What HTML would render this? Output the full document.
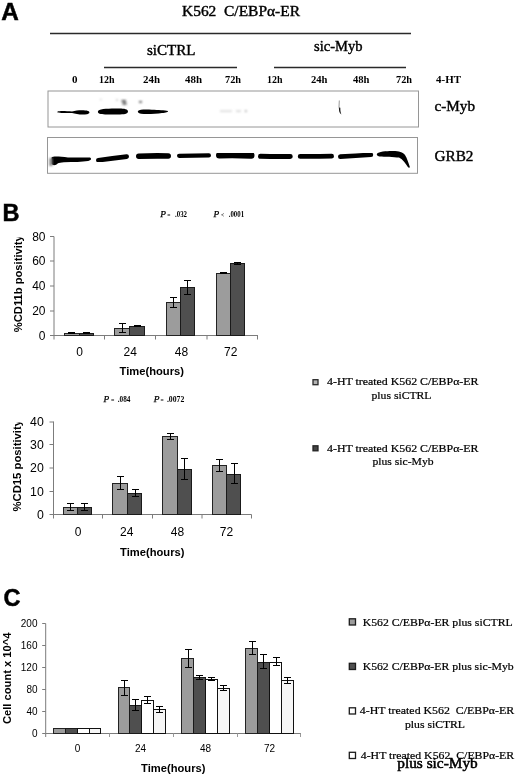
<!DOCTYPE html>
<html><head><meta charset="utf-8"><title>K562 C/EBPα-ER figure</title>
<style>
html,body{margin:0;padding:0;background:#fff;}
body{width:520px;height:777px;overflow:hidden;}
svg{display:block;}
.se{font-family:"Liberation Serif","Times New Roman",serif;fill:#000;}
.sa{font-family:"Liberation Sans",Arial,sans-serif;fill:#000;}
.b{font-weight:bold;}
.hv{stroke:#000;stroke-width:0.4;}
.hv2{stroke:#000;stroke-width:0.5;}
.hv3{stroke:#000;stroke-width:0.25;}
.i{font-style:italic;}
.ax{stroke:#7c7c7c;stroke-width:1;fill:none;}
.eb{stroke:#000;stroke-width:1;fill:none;}
.lg{fill:#9c9c9c;stroke:#222;stroke-width:1;}
.dk{fill:#4f4f4f;stroke:#1a1a1a;stroke-width:1;}
.wh{fill:#fff;stroke:#111;stroke-width:1;}
.w2{fill:#f6f6f6;stroke:#111;stroke-width:1;}
</style></head><body>
<svg width="520" height="777" viewBox="0 0 520 777">
<defs>
<filter id="bl" x="-5%" y="-30%" width="110%" height="160%"><feGaussianBlur stdDeviation="0.55"/></filter>
<filter id="bl2" x="-20%" y="-50%" width="140%" height="200%"><feGaussianBlur stdDeviation="0.9"/></filter>
</defs>
<rect width="520" height="777" fill="#fff"/>

<!-- ===== Panel A ===== -->
<g id="panelA">
<text class="sa b hv2" x="1.2" y="20.3" font-size="24.3">A</text>
<text class="se hv" x="182" y="15.6" font-size="14.7" textLength="118" lengthAdjust="spacingAndGlyphs" xml:space="preserve">K562  C/EBPα-ER</text>
<line x1="50" y1="33.5" x2="411" y2="33.5" stroke="#2a2a2a" stroke-width="1.5"/>
<text class="se hv" x="147" y="54.5" font-size="14.5" textLength="48.5" lengthAdjust="spacingAndGlyphs">siCTRL</text>
<text class="se hv" x="314" y="51" font-size="14.5" textLength="48.5" lengthAdjust="spacingAndGlyphs">sic-Myb</text>
<line x1="104" y1="67.5" x2="237" y2="67.5" stroke="#2a2a2a" stroke-width="1.5"/>
<line x1="274" y1="67.5" x2="406" y2="67.5" stroke="#2a2a2a" stroke-width="1.5"/>
<g class="se b" font-size="11">
<text x="72" y="82.5">0</text>
<text x="99" y="82.5" textLength="15.5" lengthAdjust="spacingAndGlyphs">12h</text>
<text x="143" y="82.5" textLength="17" lengthAdjust="spacingAndGlyphs">24h</text>
<text x="185" y="82.5" textLength="17" lengthAdjust="spacingAndGlyphs">48h</text>
<text x="225" y="82.5" textLength="16" lengthAdjust="spacingAndGlyphs">72h</text>
<text x="267" y="82.5" textLength="15.5" lengthAdjust="spacingAndGlyphs">12h</text>
<text x="311" y="82.5" textLength="16.5" lengthAdjust="spacingAndGlyphs">24h</text>
<text x="353" y="82.5" textLength="16.5" lengthAdjust="spacingAndGlyphs">48h</text>
<text x="396" y="82.5" textLength="16" lengthAdjust="spacingAndGlyphs">72h</text>
<text x="436" y="82.5" textLength="25" lengthAdjust="spacingAndGlyphs">4-HT</text>
</g>
<rect x="48" y="91" width="370.5" height="36" fill="#fff" stroke="#969696" stroke-width="1"/>
<rect x="47.5" y="137.5" width="370" height="35.8" fill="#fff" stroke="#969696" stroke-width="1"/>
<text class="se hv" x="434.5" y="111" font-size="15" textLength="40.5" lengthAdjust="spacingAndGlyphs">c-Myb</text>
<text class="se hv" x="434.5" y="160.5" font-size="15" textLength="39" lengthAdjust="spacingAndGlyphs">GRB2</text>
<!-- c-Myb bands -->
<g filter="url(#bl)" fill="#000">
<path d="M57.5 111.6 C60 110.6 66 111 72 111.6 C77 110.2 84 110 88 111 C90.3 111.8 89.8 113.6 87 114.2 C82 115 76 114.2 72 113 C66 113 60 113 57.5 112.4Z"/>
<path d="M98.5 110.6 C100 108.6 110 108.6 118 108.5 C124 108.4 128 109 128 111.5 C128 114 124 114.4 118 114.4 C110 114.6 101 114.6 99 113.4 C97.6 112.6 97.6 111.4 98.5 110.6Z"/>
<path d="M138 111 C139.5 109.4 146 109.4 152 109.8 C158 110 165 110.2 168 111 C168.4 112 166 112.8 162 113 C156 114 146 114.4 141 113.8 C138.2 113.4 137.4 112 138 111Z"/>
</g>
<g filter="url(#bl2)" fill="#555">
<rect x="121.5" y="100" width="4.5" height="1.8"/><rect x="122.5" y="102.5" width="4" height="2.2"/>
<rect x="139" y="101" width="3" height="1.8" fill="#666"/>
<rect x="116" y="99.5" width="2" height="1" fill="#aaa"/><rect x="100" y="99" width="1.5" height="1" fill="#bbb"/>
<rect x="220" y="110.6" width="12" height="1" fill="#c4c4c4"/><rect x="236" y="110.6" width="5" height="1" fill="#bbb"/><rect x="245" y="110.4" width="1.6" height="1.4" fill="#888"/>
</g>
<g filter="url(#bl)">
<path d="M339.3 100.5 L339 107 L339.6 110" stroke="#999" stroke-width="1" fill="none"/>
<path d="M339.2 107.5 C338.6 110.5 339.4 113.2 341.4 114.6 C340.6 112.6 340.2 110 340.3 107.8Z" fill="#111"/>
</g>
<!-- GRB2 bands -->
<g filter="url(#bl)" fill="none" stroke="#000" stroke-linecap="round">
<path d="M98.3 160.2Q112.5 158.1 126.7 156.6" stroke-width="4.6"/>
<path d="M138.8 156.2Q153.5 155.7 168.2 156" stroke-width="5.6"/>
<path d="M179.1 155.8Q194.0 155.4 208.9 155.4" stroke-width="4.2"/>
<path d="M219.3 155.2Q235.2 154.8 251.2 155.4" stroke-width="6.6"/>
<path d="M260.5 156.2Q275.4 156.6 290.2 156.4" stroke-width="5.0"/>
<path d="M300.2 156.4Q315.9 156.5 331.6 156.2" stroke-width="4.8"/>
<path d="M340.3 156.6Q355.6 155.9 370.9 154.8" stroke-width="4.6"/>
</g>
<g filter="url(#bl)" fill="#000">
<path d="M51.5 157.5 C53 155.8 60 156.6 68 157.4 C76 158 86 157 90 157.6 C92 158.6 91 160.6 88 161 C82 161.8 74 162.2 64 162.2 C61 162.4 59 162.8 58 163.2 C56 165.6 52.5 166 51.5 163.5Z"/>
<path d="M377 153.8 C378.5 151.6 386 151 392 151 C398 150.8 403 152 405 155 C407 158 408.5 163 410 167.5 L408.2 167.5 C405.5 163.5 403 159.4 399 157.6 C394 156.6 384 157 379.5 156.4 C377 156 376.4 154.8 377 153.8Z"/>
</g>
<g filter="url(#bl2)" fill="#777"><rect x="49.5" y="158" width="3" height="8"/></g>
</g>

<!-- ===== Panel B ===== -->
<g id="panelB">
<text class="sa b hv2" x="2.5" y="221" font-size="23.5">B</text>
<path class="ax" d="M54 236.5V339.5M54 335.5H258"/>
<path class="ax" d="M50 236.5H54M50 261H54M50 286H54M50 311H54M50 335.5H54"/>
<path class="ax" d="M104.5 335.5V339.5M155.5 335.5V339.5M207 335.5V339.5M257.5 335.5V339.5"/>
<text class="sa" font-size="12" text-anchor="end" x="45.5" y="240.7">80</text>
<text class="sa" font-size="12" text-anchor="end" x="45.5" y="265.2">60</text>
<text class="sa" font-size="12" text-anchor="end" x="45.5" y="290.2">40</text>
<text class="sa" font-size="12" text-anchor="end" x="45.5" y="315.2">20</text>
<text class="sa" font-size="12" text-anchor="end" x="45.5" y="339.7">0</text>
<text class="sa" font-size="12" text-anchor="middle" x="79.5" y="356">0</text>
<text class="sa" font-size="12" text-anchor="middle" x="130.3" y="356">24</text>
<text class="sa" font-size="12" text-anchor="middle" x="181.5" y="356">48</text>
<text class="sa" font-size="12" text-anchor="middle" x="230.7" y="356">72</text>
<text class="sa b" font-size="11" x="119.5" y="375" textLength="64.5" lengthAdjust="spacingAndGlyphs">Time(hours)</text>
<clipPath id="cb1"><rect x="0" y="237.6" width="40" height="110"/></clipPath>
<g clip-path="url(#cb1)"><text class="sa b" font-size="11" transform="translate(21.8 332.2) rotate(-90)" textLength="97" lengthAdjust="spacingAndGlyphs">%CD11b positivity</text></g>
<rect class="lg" x="64.5" y="333.5" width="15.0" height="2.0"/>
<rect class="dk" x="79.5" y="333.5" width="14.0" height="2.0"/>
<rect class="lg" x="114.5" y="328.5" width="15.0" height="7.0"/>
<rect class="dk" x="129.5" y="326.5" width="15.0" height="9.0"/>
<rect class="lg" x="166.5" y="302.5" width="14.0" height="33.0"/>
<rect class="dk" x="180.5" y="287.5" width="14.0" height="48.0"/>
<rect class="lg" x="216.5" y="273.5" width="14.0" height="62.0"/>
<rect class="dk" x="230.5" y="263.5" width="14.0" height="72.0"/>
<path class="eb" d="M71.5 332.5V333.5M68.0 332.5H75.0M68.0 333.5H75.0"/>
<path class="eb" d="M86.5 332.5V333.5M83.0 332.5H90.0M83.0 333.5H90.0"/>
<path class="eb" d="M122.5 323.5V332.5M119.0 323.5H126.0M119.0 332.5H126.0"/>
<path class="eb" d="M137.5 325.5V326.5M134.0 325.5H141.0M134.0 326.5H141.0"/>
<path class="eb" d="M173.5 297.5V307.5M170.0 297.5H177.0M170.0 307.5H177.0"/>
<path class="eb" d="M187.5 280.5V294.5M184.0 280.5H191.0M184.0 294.5H191.0"/>
<path class="eb" d="M223.5 272.5V273.5M220.0 272.5H227.0M220.0 273.5H227.0"/>
<path class="eb" d="M237.5 262.5V264.5M234.0 262.5H241.0M234.0 264.5H241.0"/>
<text class="se i hv3" font-size="8.8" x="160.2" y="217.3" textLength="5.7" lengthAdjust="spacingAndGlyphs">P</text><text class="se b" font-size="7" x="167.3" y="217.3" textLength="3.2" lengthAdjust="spacingAndGlyphs">=</text><text class="se b" font-size="7.2" x="175" y="217.3" textLength="12" lengthAdjust="spacingAndGlyphs">.032</text>
<text class="se i hv3" font-size="8.8" x="213.5" y="216.6" textLength="5.7" lengthAdjust="spacingAndGlyphs">P</text><text class="se b" font-size="7" x="220.9" y="216.6" textLength="3.2" lengthAdjust="spacingAndGlyphs">&lt;</text><text class="se b" font-size="7.2" x="228.7" y="216.6" textLength="15.4" lengthAdjust="spacingAndGlyphs">.0001</text>
<path class="ax" d="M53.5 421.5V518.5M53.5 514.5H251.5"/>
<path class="ax" d="M49.5 422H53.5M49.5 444.5H53.5M49.5 468H53.5M49.5 491.5H53.5M49.5 514.5H53.5"/>
<path class="ax" d="M102.5 514.5V518.5M152.5 514.5V518.5M202 514.5V518.5M251.5 514.5V518.5"/>
<text class="sa" font-size="12.3" text-anchor="end" x="43.8" y="426.4">40</text>
<text class="sa" font-size="12.3" text-anchor="end" x="43.8" y="448.9">30</text>
<text class="sa" font-size="12.3" text-anchor="end" x="43.8" y="472.4">20</text>
<text class="sa" font-size="12.3" text-anchor="end" x="43.8" y="495.9">10</text>
<text class="sa" font-size="12.3" text-anchor="end" x="43.8" y="518.9">0</text>
<text class="sa" font-size="12" text-anchor="middle" x="78" y="535.5">0</text>
<text class="sa" font-size="12" text-anchor="middle" x="126.8" y="535.5">24</text>
<text class="sa" font-size="12" text-anchor="middle" x="177.5" y="535.5">48</text>
<text class="sa" font-size="12" text-anchor="middle" x="226.5" y="535.5">72</text>
<text class="sa b" font-size="11" x="120" y="556" textLength="64.5" lengthAdjust="spacingAndGlyphs">Time(hours)</text>
<clipPath id="cb2"><rect x="0" y="422.4" width="40" height="110"/></clipPath>
<g clip-path="url(#cb2)"><text class="sa b" font-size="11" transform="translate(21.3 511.5) rotate(-90)" textLength="91.5" lengthAdjust="spacingAndGlyphs">%CD15 positivity</text></g>
<rect class="lg" x="63.5" y="507.5" width="14.0" height="7.0"/>
<rect class="dk" x="77.5" y="507.5" width="14.0" height="7.0"/>
<rect class="lg" x="112.5" y="483.5" width="15.0" height="31.0"/>
<rect class="dk" x="127.5" y="493.5" width="14.0" height="21.0"/>
<rect class="lg" x="162.5" y="436.5" width="15.0" height="78.0"/>
<rect class="dk" x="177.5" y="469.5" width="14.0" height="45.0"/>
<rect class="lg" x="212.5" y="465.5" width="14.0" height="49.0"/>
<rect class="dk" x="226.5" y="474.5" width="14.0" height="40.0"/>
<path class="eb" d="M70.5 503.5V510.5M67.0 503.5H74.0M67.0 510.5H74.0"/>
<path class="eb" d="M84.5 503.5V510.5M81.0 503.5H88.0M81.0 510.5H88.0"/>
<path class="eb" d="M120.5 476.5V489.5M117.0 476.5H124.0M117.0 489.5H124.0"/>
<path class="eb" d="M135.5 489.5V496.5M132.0 489.5H139.0M132.0 496.5H139.0"/>
<path class="eb" d="M170.5 433.5V439.5M167.0 433.5H174.0M167.0 439.5H174.0"/>
<path class="eb" d="M184.5 458.5V479.5M181.0 458.5H188.0M181.0 479.5H188.0"/>
<path class="eb" d="M219.5 459.5V471.5M216.0 459.5H223.0M216.0 471.5H223.0"/>
<path class="eb" d="M234.5 463.5V483.5M231.0 463.5H238.0M231.0 483.5H238.0"/>
<text class="se i hv3" font-size="8.8" x="103.5" y="401.6" textLength="5.7" lengthAdjust="spacingAndGlyphs">P</text><text class="se b" font-size="7" x="110.9" y="401.6" textLength="3.4" lengthAdjust="spacingAndGlyphs">=</text><text class="se b" font-size="7.2" x="117.8" y="401.6" textLength="12.7" lengthAdjust="spacingAndGlyphs">.084</text>
<text class="se i hv3" font-size="8.8" x="153.8" y="401.6" textLength="5.7" lengthAdjust="spacingAndGlyphs">P</text><text class="se b" font-size="7" x="160.6" y="401.6" textLength="3.2" lengthAdjust="spacingAndGlyphs">=</text><text class="se b" font-size="7.2" x="166.9" y="401.6" textLength="17.4" lengthAdjust="spacingAndGlyphs">.0072</text>
<rect x="313" y="379.7" width="5" height="5" fill="#b4b4b4" stroke="#2a2a2a" stroke-width="1.3"/>
<rect x="313" y="445.8" width="5" height="5" fill="#444" stroke="#222" stroke-width="1.3"/>
<g class="se" stroke="#000" stroke-width="0.22" font-size="11.3">
<text x="327" y="385" textLength="151.5" lengthAdjust="spacingAndGlyphs">4-HT treated K562 C/EBPα-ER</text>
<text x="371.5" y="399" textLength="60" lengthAdjust="spacingAndGlyphs">plus siCTRL</text>
<text x="327" y="451.7" textLength="151.5" lengthAdjust="spacingAndGlyphs">4-HT treated K562 C/EBPα-ER</text>
<text x="372.5" y="464.5" textLength="61" lengthAdjust="spacingAndGlyphs">plus sic-Myb</text>
</g>
</g>
<!-- ===== Panel C ===== -->
<g id="panelC">
<text class="sa b hv2" x="3.5" y="605.7" font-size="23.5">C</text>
<path class="ax" d="M45.7 623.5V737.0M45.7 733.5H301"/>
<path class="ax" d="M42.2 623.5H45.7M42.2 645.5H45.7M42.2 667.5H45.7M42.2 689.5H45.7M42.2 711.5H45.7M42.2 733.5H45.7"/>
<path class="ax" style="stroke:#9a9a9a" d="M109.5 733.5V737.0M173.5 733.5V737.0M237.5 733.5V737.0M300.5 733.5V737.0"/>
<text class="sa" font-size="10" text-anchor="end" x="37.5" y="627.0">200</text>
<text class="sa" font-size="10" text-anchor="end" x="37.5" y="649.0">160</text>
<text class="sa" font-size="10" text-anchor="end" x="37.5" y="671.0">120</text>
<text class="sa" font-size="10" text-anchor="end" x="37.5" y="693.0">80</text>
<text class="sa" font-size="10" text-anchor="end" x="37.5" y="715.0">40</text>
<text class="sa" font-size="10" text-anchor="end" x="37.5" y="737.0">0</text>
<text class="sa" font-size="10" text-anchor="middle" x="77.5" y="751.5">0</text>
<text class="sa" font-size="10" text-anchor="middle" x="140.5" y="751.5">24</text>
<text class="sa" font-size="10" text-anchor="middle" x="205.5" y="751.5">48</text>
<text class="sa" font-size="10" text-anchor="middle" x="269.5" y="751.5">72</text>
<text class="sa b" font-size="11" x="141" y="772" textLength="64.5" lengthAdjust="spacingAndGlyphs">Time(hours)</text>
<text class="sa b" font-size="11" transform="translate(11 724) rotate(-90)" textLength="91.5" lengthAdjust="spacingAndGlyphs">Cell count x 10^4</text>
<rect class="lg" x="53.5" y="728.5" width="12.0" height="5.0"/>
<rect class="dk" x="65.5" y="728.5" width="12.0" height="5.0"/>
<rect class="wh" x="77.5" y="728.5" width="12.0" height="5.0"/>
<rect class="w2" x="89.5" y="728.5" width="11.0" height="5.0"/>
<rect class="lg" x="118.5" y="687.5" width="11.0" height="46.0"/>
<rect class="dk" x="129.5" y="705.5" width="12.0" height="28.0"/>
<rect class="wh" x="141.5" y="700.5" width="12.0" height="33.0"/>
<rect class="w2" x="153.5" y="709.5" width="12.0" height="24.0"/>
<rect class="lg" x="181.5" y="658.5" width="12.0" height="75.0"/>
<rect class="dk" x="193.5" y="677.5" width="12.0" height="56.0"/>
<rect class="wh" x="205.5" y="679.5" width="12.0" height="54.0"/>
<rect class="w2" x="217.5" y="688.5" width="12.0" height="45.0"/>
<rect class="lg" x="245.5" y="648.5" width="12.0" height="85.0"/>
<rect class="dk" x="257.5" y="662.5" width="12.0" height="71.0"/>
<rect class="wh" x="269.5" y="662.5" width="12.0" height="71.0"/>
<rect class="w2" x="281.5" y="680.5" width="12.0" height="53.0"/>
<path class="eb" d="M124.5 680.5V695.5M121.0 680.5H128.0M121.0 695.5H128.0"/>
<path class="eb" d="M135.5 699.5V710.5M132.0 699.5H139.0M132.0 710.5H139.0"/>
<path class="eb" d="M147.5 696.5V703.5M144.0 696.5H151.0M144.0 703.5H151.0"/>
<path class="eb" d="M159.5 706.5V712.5M156.0 706.5H163.0M156.0 712.5H163.0"/>
<path class="eb" d="M188.5 649.5V667.5M185.0 649.5H192.0M185.0 667.5H192.0"/>
<path class="eb" d="M199.5 675.5V679.5M196.0 675.5H203.0M196.0 679.5H203.0"/>
<path class="eb" d="M211.5 677.5V680.5M208.0 677.5H215.0M208.0 680.5H215.0"/>
<path class="eb" d="M223.5 685.5V690.5M220.0 685.5H227.0M220.0 690.5H227.0"/>
<path class="eb" d="M252.5 641.5V654.5M249.0 641.5H256.0M249.0 654.5H256.0"/>
<path class="eb" d="M263.5 654.5V668.5M260.0 654.5H267.0M260.0 668.5H267.0"/>
<path class="eb" d="M276.5 657.5V665.5M273.0 657.5H280.0M273.0 665.5H280.0"/>
<path class="eb" d="M287.5 677.5V683.5M284.0 677.5H291.0M284.0 683.5H291.0"/>
<rect x="349.3" y="618.8" width="6.2" height="6.2" class="lg" style="stroke-width:1.3;stroke:#1c1c1c"/>
<rect x="349.3" y="663.3" width="6.2" height="6.2" class="dk" style="stroke-width:1.3;stroke:#1c1c1c"/>
<rect x="349.3" y="707.8" width="6.2" height="6.2" class="wh" style="stroke-width:1.3;stroke:#1c1c1c"/>
<rect x="349.3" y="752.3" width="6.2" height="6.2" class="wh" style="stroke-width:1.3;stroke:#1c1c1c"/>
<g class="se" stroke="#000" stroke-width="0.22" font-size="11.3">
<text x="362.7" y="625.5" textLength="150" lengthAdjust="spacingAndGlyphs">K562 C/EBPα-ER plus siCTRL</text>
<text x="362.7" y="669.5" textLength="151" lengthAdjust="spacingAndGlyphs">K562 C/EBPα-ER plus sic-Myb</text>
<text x="359.8" y="714" textLength="154.4" lengthAdjust="spacingAndGlyphs" xml:space="preserve">4-HT treated K562  C/EBPα-ER</text>
<text x="405" y="727.5" textLength="60" lengthAdjust="spacingAndGlyphs">plus siCTRL</text>
<text x="360.8" y="758.8" textLength="153.4" lengthAdjust="spacingAndGlyphs" xml:space="preserve">4-HT treated K562  C/EBPα-ER</text>
<text x="397.3" y="768.4" font-size="15.3" stroke-width="0.55" textLength="80.4" lengthAdjust="spacingAndGlyphs">plus sic-Myb</text>
</g>
</g>
</svg>
</body></html>
